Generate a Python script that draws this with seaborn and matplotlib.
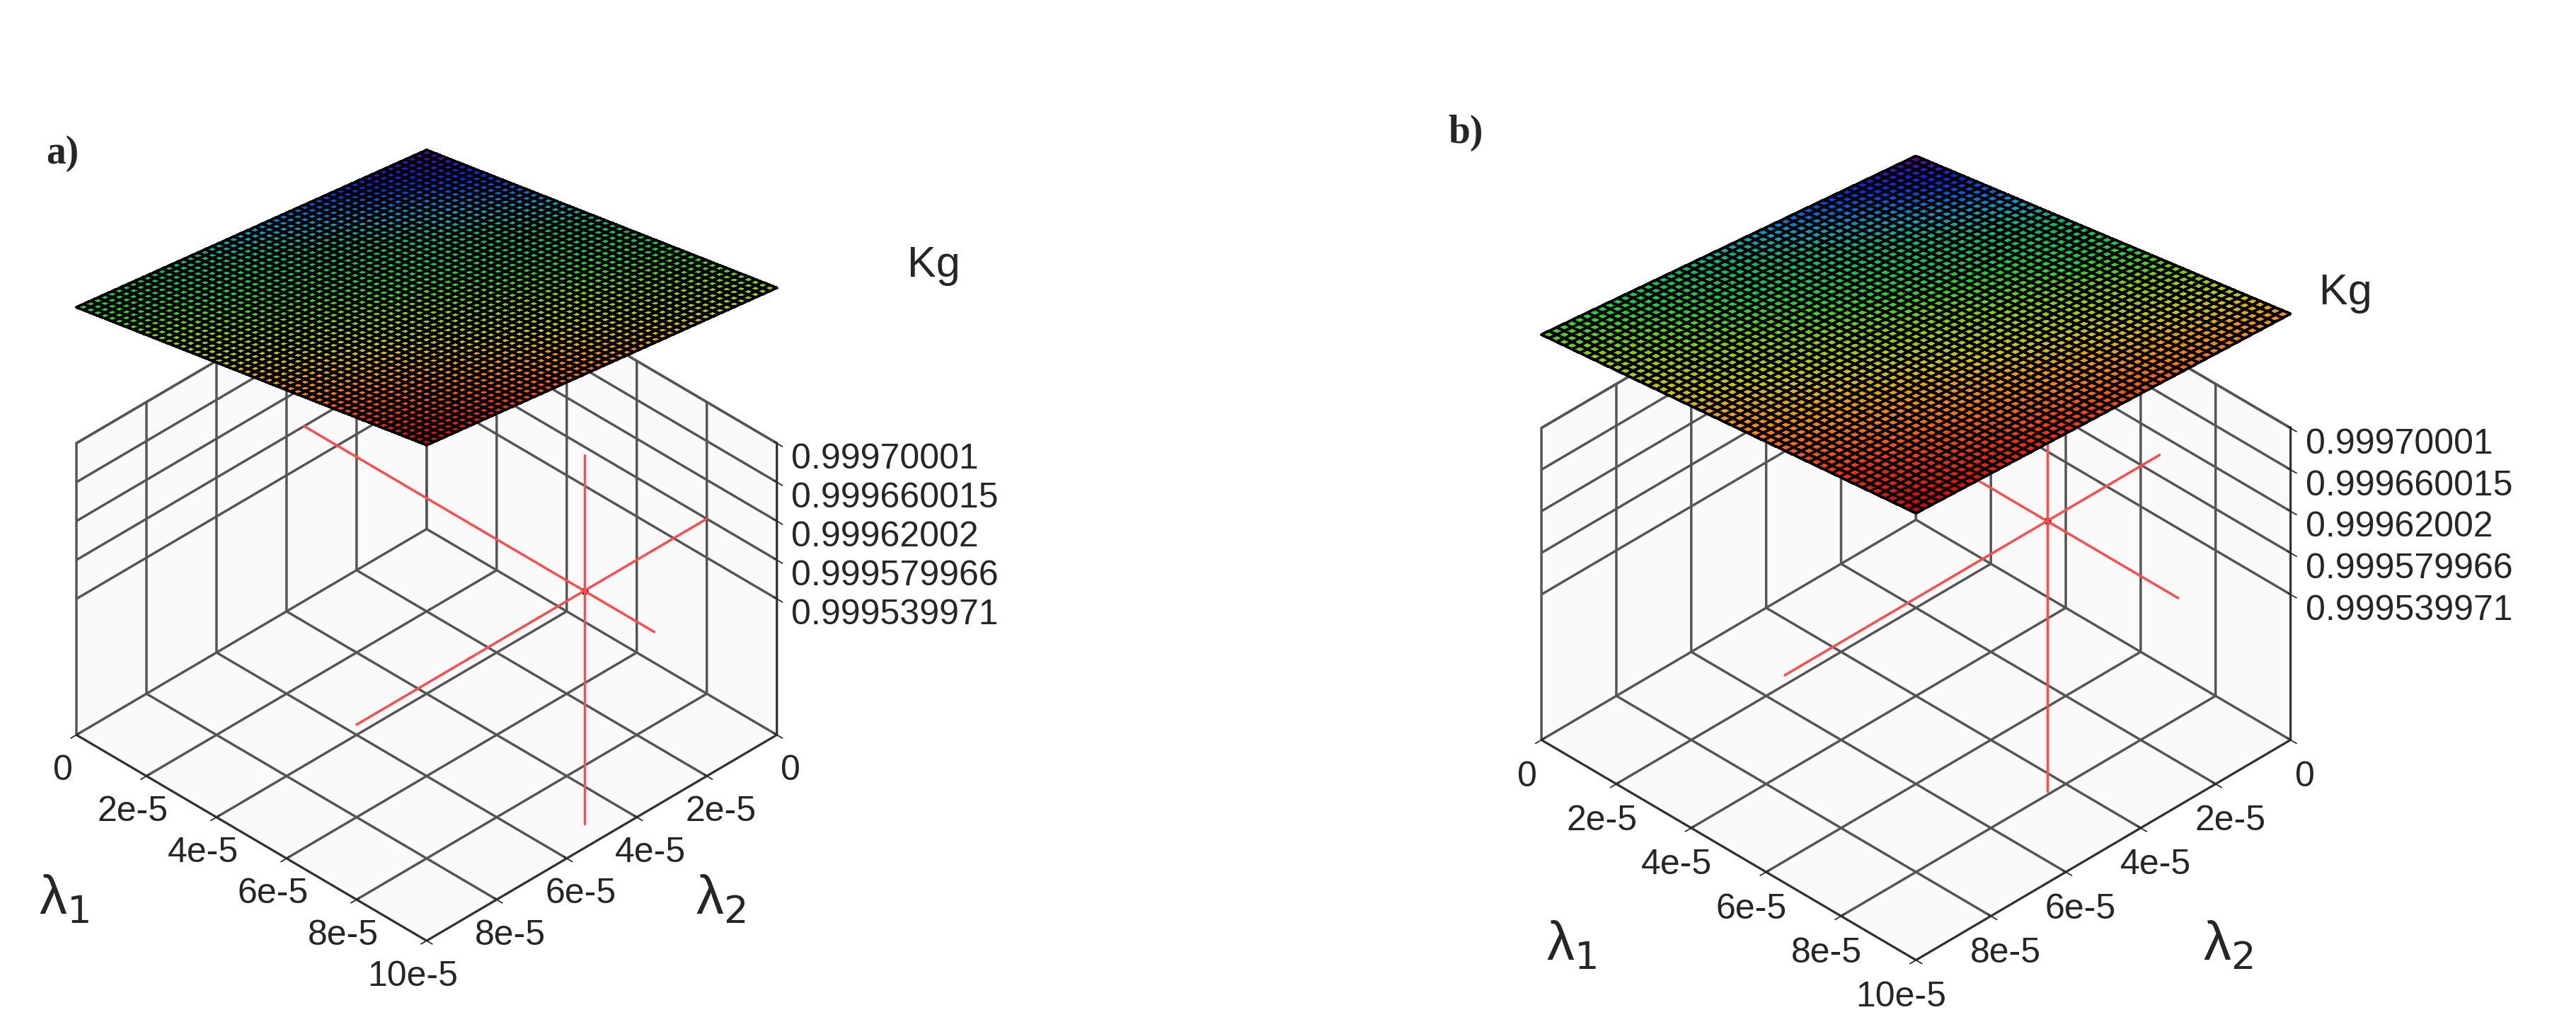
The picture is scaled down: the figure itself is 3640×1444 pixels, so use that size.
import numpy as np
import matplotlib
matplotlib.use("Agg")
import matplotlib.pyplot as plt
from matplotlib.colors import LinearSegmentedColormap
import seaborn as sns

sns.set_theme(style="white")
plt.rcParams['font.family'] = ['Liberation Sans', 'DejaVu Sans']

# axis ticks
lam_ticks = [0, 2e-5, 4e-5, 6e-5, 8e-5, 10e-5]
lam1_labels = ["0", "2e-5", "4e-5", "6e-5", "8e-5", "10e-5"]
lam2_labels = ["0", "2e-5", "4e-5", "6e-5", "8e-5", ""]
kg_ticks = [0.999539971, 0.999579966, 0.99962002, 0.999660015, 0.99970001]
kg_labels = ["0.999539971", "0.999579966", "0.99962002", "0.999660015", "0.99970001"]

# surface corner values Kg: back (0,0), left corner, right corner, front (max,max)
corners_a = [0.99979, 0.99984, 0.99986, 0.99991]
corners_b = [0.99975, 0.99979, 0.99981, 0.99983]

# optimum point (lam1, lam2, Kg) marked by red crosshair
opt_a = (8.0e-5, 3.5e-5, 0.99958)
opt_b = (6.5e-5, 3.0e-5, 0.99960)

rainbow = LinearSegmentedColormap.from_list(
    "kg", ["#6000a0", "#0030e0", "#00a0c0", "#00c060", "#20d030", "#80d000",
           "#d0c000", "#ff8000", "#ff3000", "#d00000"])


def draw(ax, corners, opt, zoom):
    n = 50
    grid = np.linspace(0, 10e-5, n)
    GX, GY = np.meshgrid(grid, grid)
    u, v = GX / 10e-5, GY / 10e-5
    back, left, right, front = corners
    Z = (back * (1 - u) * (1 - v) + left * u * (1 - v)
         + right * (1 - u) * v + front * u * v)
    ax.plot_surface(GX, GY, Z, cmap=rainbow, vmin=min(corners), vmax=max(corners),
                    edgecolor="black", linewidth=2.0, rstride=1, cstride=1,
                    antialiased=False, shade=False)
    # x axis carries lam2, y axis carries lam1
    l1, l2, z = opt
    red = "#ff4d4d"
    ax.plot([0, 10e-5], [l1, l1], [z, z], color=red, lw=2.5)
    ax.plot([l2, l2], [0, 10e-5], [z, z], color=red, lw=2.5)
    ax.plot([l2, l2], [l1, l1], [0.99934, 0.99972], color=red, lw=2.5)
    ax.scatter([l2], [l1], [z], color="black", s=40, depthshade=False)

    ax.set_xlim(0, 10e-5)
    ax.set_ylim(0, 10e-5)
    ax.set_zlim(0.99940, 0.999701)
    ax.set_box_aspect((1, 1, 0.73), zoom=zoom)
    ax.set_xticks(lam_ticks)
    ax.set_xticklabels(lam2_labels, fontsize=36)
    ax.set_yticks(lam_ticks)
    ax.set_yticklabels(lam1_labels, fontsize=36)
    ax.set_zticks(kg_ticks)
    ax.set_zticklabels(kg_labels, fontsize=36, ha="left")
    ax.zaxis.set_ticks_position("upper")
    for axis in (ax.xaxis, ax.yaxis):
        axis.set_tick_params(pad=14)
    ax.set_xlabel("")
    ax.set_ylabel("")
    ax.set_zlabel("")
    for axis in (ax.xaxis, ax.yaxis, ax.zaxis):
        axis.set_pane_color((0.98, 0.98, 0.98, 1))
        axis.pane.set_edgecolor("#444444")
        axis._axinfo["grid"]["color"] = "#555555"
        axis._axinfo["grid"]["linewidth"] = 2.5
        axis._axinfo["axisline"]["color"] = "#444444"
        axis._axinfo["tick"]["color"] = "#444444"
    ax.view_init(elev=36, azim=45)
    ax.set_proj_type("ortho")


fig = plt.figure(figsize=(36.41, 14.44), dpi=100)
ax1 = fig.add_axes([-0.10, -0.11, 0.52, 1.04], projection="3d")
ax2 = fig.add_axes([0.478, -0.105, 0.52, 1.04], projection="3d")
draw(ax1, corners_a, opt_a, 0.72)
draw(ax2, corners_b, opt_b, 0.77)

serif = ["Liberation Serif", "DejaVu Serif"]
fig.text(0.018, 0.85, "a)", fontsize=40, fontweight="bold", family=serif, va="center")
fig.text(0.562, 0.87, "b)", fontsize=40, fontweight="bold", family=serif, va="center")
fig.text(0.352, 0.74, "Kg", fontsize=44, va="center")
fig.text(0.900, 0.713, "Kg", fontsize=44, va="center")
fig.text(0.015, 0.12, "λ$_1$", fontsize=56, va="center")
fig.text(0.270, 0.12, "λ$_2$", fontsize=56, va="center")
fig.text(0.600, 0.075, "λ$_1$", fontsize=56, va="center")
fig.text(0.855, 0.075, "λ$_2$", fontsize=56, va="center")
fig.savefig("out.png", dpi=100)
